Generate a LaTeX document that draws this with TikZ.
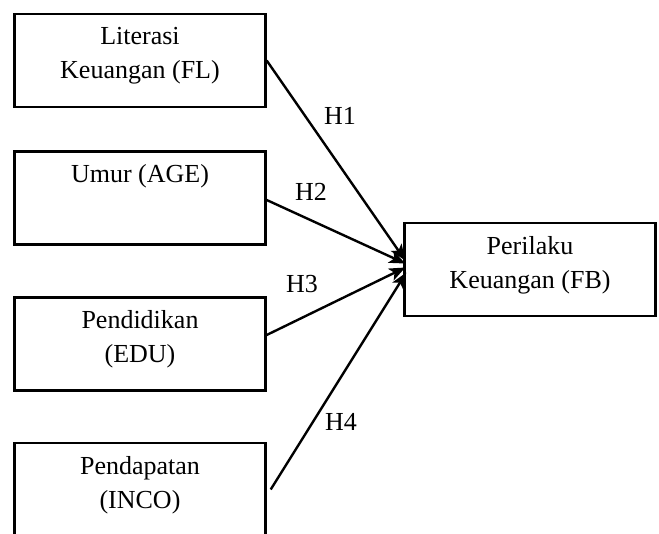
\documentclass[tikz,border=0pt]{standalone}
\usepackage{fontspec}
\setmainfont{Liberation Serif}
\usetikzlibrary{arrows.meta}
\tikzset{kotak/.style={draw,minimum width=125.5pt,minimum height=46.5pt,inner sep=0pt},
  isi/.style={anchor=north,yshift=-6.6pt,align=center,inner sep=0pt},
  hipo/.style={inner sep=0pt},
  panah/.style={draw,-{Stealth[length=8pt,width=6.5pt,inset=2pt]}}}

\begin{document}
\begin{tikzpicture}[line width=1.2pt,font=\fontsize{13}{17}\selectfont]
  \begin{scope}[x=0.5pt,y=-0.5pt]
    \useasboundingbox (0,0) rectangle (659,534);
    \clip (0,0) rectangle (659,534);
    % variabel
    \path node [kotak, label={[isi]north:Literasi\\Keuangan (FL)}] (fl) at (140,60.5) {}
          node [kotak, label={[isi]north:Umur (AGE)}] (age) at (140,198) {}
          node [kotak, label={[isi]north:Pendidikan\\(EDU)}] (edu) at (140,344) {}
          node [kotak, label={[isi]north:Pendapatan\\(INCO)}] (inco) at (140,489.5) {}
          node [kotak, label={[isi]north:Perilaku\\Keuangan (FB)}] (fb) at (530,269.5) {}
          node [hipo] (h1) at (340,116) {H1}
          node [hipo] (h2) at (311,192) {H2}
          node [hipo] (h3) at (302,284) {H3}
          node [hipo] (h4) at (341,422) {H4};
  \end{scope}
  % panah
  \path (fl.east) edge [panah] ([xshift=1pt,yshift=4.5pt]fb.west)
        ([yshift=-1pt]age.east) edge [panah] ([xshift=1pt,yshift=3pt]fb.west)
        ([yshift=4.5pt]edu.east) edge [panah] ([xshift=1pt,yshift=1pt]fb.west)
        ([xshift=2pt]inco.east) edge [panah] ([xshift=1.5pt,yshift=-1.5pt]fb.west);
\end{tikzpicture}
\end{document}
